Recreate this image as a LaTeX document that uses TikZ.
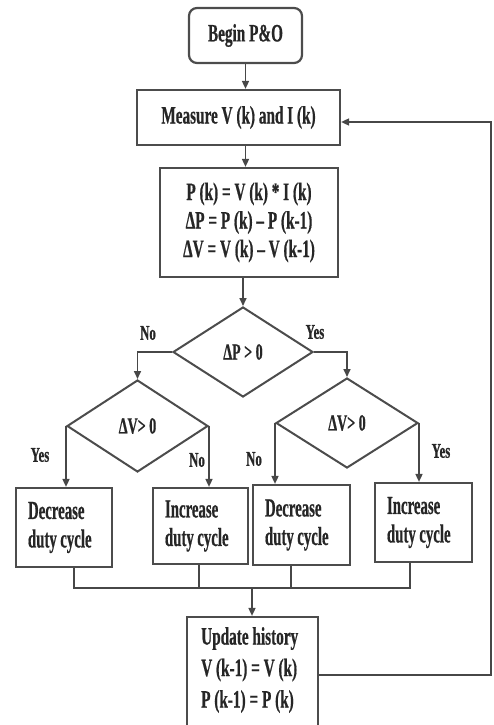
\documentclass[tikz,border=0pt]{standalone}
\usepackage{fontspec}
\setmainfont{Liberation Serif}[FakeStretch=0.61, BoldFeatures={FakeBold=0.6}]
\newfontfamily\actfont{Liberation Serif}[FakeStretch=0.57, BoldFeatures={FakeBold=0.6}]
\usetikzlibrary{shapes.geometric,arrows.meta}
\newcommand{\dutycyc}{\mbox{duty\hspace{3.5pt}cycle}}
\begin{document}
\begin{tikzpicture}[x=1pt,y=-1pt,
  every node/.style={font=\bfseries\fontsize{25}{28.5}\selectfont, text=black!85},
  boxst/.style={draw=black!70, line width=2.2pt, rectangle, inner sep=0pt, align=center},
  actbox/.style={boxst, align=left, inner xsep=12pt, inner ysep=0pt, font=\actfont\bfseries\fontsize{26}{28.5}\selectfont},
  dia/.style={draw=black!70, line width=2pt, diamond, inner sep=0pt, font=\bfseries\fontsize{23}{26}\selectfont},
  lbl/.style={inner sep=0pt, font=\bfseries\fontsize{21}{24}\selectfont},
  conn/.style={draw=black!72, line width=1.6pt},
  arr/.style={conn, -{Triangle[length=8pt,width=7pt]}}
]
\useasboundingbox (0,0) rectangle (493,725);
\clip (0,0) rectangle (493,725);

% boxes
\node[boxst, rounded corners=8pt, minimum width=113pt, minimum height=55pt] (begin) at (245.5,35.5) {Begin P\&O};
\node[boxst, minimum width=203pt, minimum height=55pt] (meas) at (238.5,117.5) {Measure V (k) and I (k)};
\node[boxst, minimum width=178pt, minimum height=109pt] (calc) at (249,222.5)
  {P (k) = V (k) * I (k)\\ΔP = P (k) -- P (k-1)\\ΔV = V (k) -- V (k-1)};

% decisions
\node[dia, minimum width=140pt, minimum height=90pt] (dp) at (243,352) {ΔP > 0};
\node[dia, minimum width=141pt, minimum height=92pt] (ldv) at (137.5,426) {ΔV> 0};
\node[dia, minimum width=142pt, minimum height=90pt] (rdv) at (347,423) {ΔV> 0};

% action boxes
\node[actbox, text width=72pt, minimum height=79pt] (decL) at (64,527.5) {\mbox{Decrease}\\\dutycyc};
\node[actbox, text width=71pt, minimum height=76pt] (incL) at (200.5,526) {\mbox{Increase}\\\dutycyc};
\node[actbox, text width=73pt, minimum height=80pt] (decR) at (301.5,525) {\mbox{Decrease}\\\dutycyc};
\node[actbox, text width=73pt, minimum height=79pt] (incR) at (423.5,522.5) {\mbox{Increase}\\\dutycyc};

% update box
\node[boxst, minimum width=131pt, minimum height=122pt] (upd) at (252.5,678) {};
\node[anchor=north west, align=left, inner sep=0pt, font=\bfseries\fontsize{25}{31.5}\selectfont] (updt) at (201,627)
  {Update history\\V (k-1) = V (k)\\P (k-1) = P (k)};

% labels
\node[lbl] (lno1) at (148,333) {No};
\node[lbl] (lyes1) at (315,332) {Yes};
\node[lbl] (lyes2) at (40,455) {Yes};
\node[lbl] (lno2) at (197,460) {No};
\node[lbl] (lno3) at (254,459) {No};
\node[lbl] (lyes3) at (441,451) {Yes};

% connectors
\draw[arr] (begin.south) -- (begin.south |- meas.north);
\draw[arr] (begin.south |- meas.south) -- (begin.south |- calc.north);
\draw[arr] (dp.north |- calc.south) -- (dp.north);
\draw[arr] (dp.west) -| (ldv.north);
\draw[arr] (dp.east) -| (rdv.north);
\draw[arr] (ldv.west) -- (ldv.west |- decL.north);
\draw[arr] (ldv.east) -- (ldv.east |- incL.north);
\draw[arr] (rdv.west) -- (rdv.west |- decR.north);
\draw[arr] (rdv.east) -- (rdv.east |- incR.north);

% collecting bus
\coordinate (b1) at (74,588);
\coordinate (b2) at (199,588);
\coordinate (b3) at (291,588);
\coordinate (b4) at (410,588);
\coordinate (bm) at (252,588);
\draw[conn] (b1 |- decL.south) -- (b1) -- (b4) -- (b4 |- incR.south);
\draw[conn] (b2 |- incL.south) -- (b2);
\draw[conn] (b3 |- decR.south) -- (b3);
\draw[arr] (bm) -- (bm |- upd.north);

% feedback loop
\coordinate (fb1) at (491,675);
\coordinate (fb2) at (491,122);
\draw[arr] (upd.east |- fb1) -- (fb1) -- (fb2) -- (meas.east |- fb2);
\end{tikzpicture}
\end{document}
